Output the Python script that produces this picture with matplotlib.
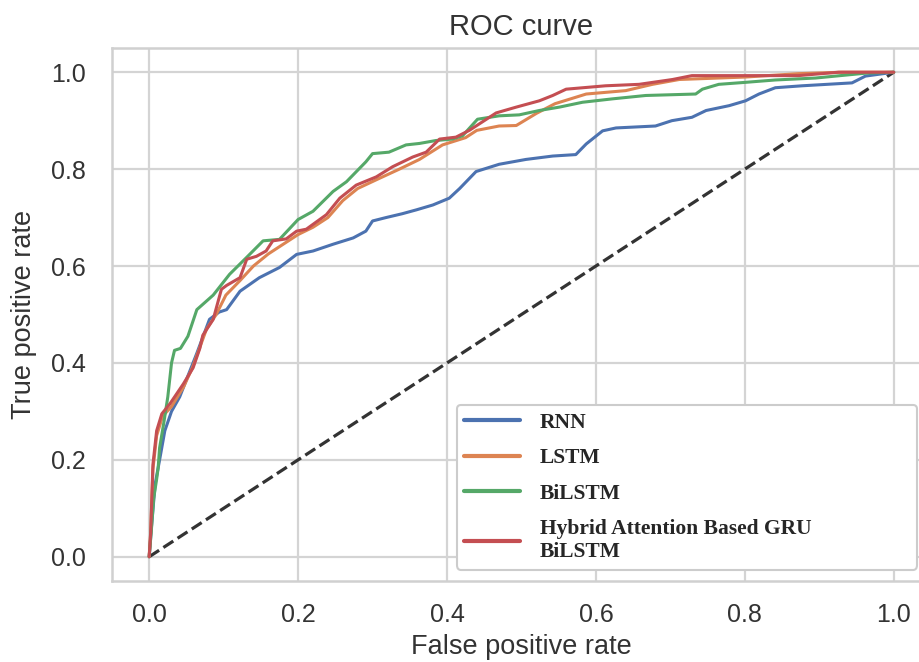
import matplotlib
matplotlib.use('Agg')
import matplotlib.pyplot as plt
import seaborn as sns

sns.set_style('whitegrid')
plt.rcParams['font.family'] = ['Liberation Sans', 'DejaVu Sans']

rnn_fpr = [0, 0.003, 0.008, 0.014, 0.021, 0.030, 0.041, 0.064, 0.081, 0.094, 0.104, 0.122, 0.148,
           0.175, 0.198, 0.220, 0.247, 0.274, 0.291, 0.300, 0.318, 0.340, 0.359, 0.381, 0.403,
           0.417, 0.439, 0.470, 0.506, 0.542, 0.573, 0.587, 0.609, 0.627, 0.680, 0.702, 0.729,
           0.748, 0.779, 0.801, 0.819, 0.841, 0.877, 0.944, 0.962, 1.0]
rnn_tpr = [0, 0.06, 0.15, 0.20, 0.26, 0.30, 0.33, 0.42, 0.49, 0.505, 0.51, 0.548, 0.576,
           0.597, 0.624, 0.631, 0.645, 0.658, 0.672, 0.693, 0.700, 0.708, 0.716, 0.726, 0.740,
           0.760, 0.795, 0.810, 0.820, 0.827, 0.830, 0.852, 0.879, 0.885, 0.889, 0.900, 0.907,
           0.921, 0.931, 0.941, 0.955, 0.968, 0.972, 0.978, 0.992, 1.0]

lstm_fpr = [0, 0.002, 0.005, 0.010, 0.018, 0.030, 0.046, 0.058, 0.077, 0.090, 0.103, 0.122, 0.140,
            0.160, 0.180, 0.200, 0.220, 0.240, 0.260, 0.280, 0.305, 0.336, 0.363, 0.394, 0.425,
            0.440, 0.470, 0.493, 0.520, 0.545, 0.587, 0.640, 0.676, 0.712, 0.800, 0.872, 0.930, 1.0]
lstm_tpr = [0, 0.05, 0.18, 0.25, 0.29, 0.31, 0.35, 0.39, 0.47, 0.50, 0.54, 0.57, 0.60,
            0.625, 0.645, 0.665, 0.68, 0.70, 0.735, 0.76, 0.778, 0.80, 0.82, 0.85, 0.865,
            0.88, 0.889, 0.89, 0.915, 0.935, 0.955, 0.962, 0.975, 0.985, 0.99, 0.997, 1.0, 1.0]

bilstm_fpr = [0, 0.003, 0.006, 0.010, 0.012, 0.014, 0.020, 0.025, 0.030, 0.034, 0.042, 0.052, 0.064,
              0.086, 0.108, 0.131, 0.153, 0.175, 0.200, 0.220, 0.247, 0.265, 0.291, 0.300, 0.322,
              0.345, 0.363, 0.385, 0.407, 0.421, 0.441, 0.470, 0.497, 0.524, 0.551, 0.582, 0.622,
              0.667, 0.734, 0.743, 0.765, 0.800, 0.841, 0.895, 0.962, 1.0]
bilstm_tpr = [0, 0.057, 0.12, 0.16, 0.183, 0.225, 0.28, 0.33, 0.40, 0.426, 0.43, 0.455, 0.51,
              0.54, 0.583, 0.618, 0.652, 0.655, 0.696, 0.713, 0.754, 0.774, 0.815, 0.832, 0.835,
              0.850, 0.853, 0.859, 0.862, 0.869, 0.903, 0.910, 0.912, 0.921, 0.928, 0.938, 0.945,
              0.952, 0.955, 0.965, 0.975, 0.979, 0.984, 0.988, 0.998, 1.0]

hybrid_fpr = [0, 0.002, 0.005, 0.010, 0.017, 0.028, 0.046, 0.059, 0.068, 0.072, 0.086, 0.097, 0.104,
              0.122, 0.131, 0.144, 0.157, 0.166, 0.184, 0.198, 0.211, 0.238, 0.256, 0.278, 0.305,
              0.327, 0.354, 0.372, 0.390, 0.412, 0.430, 0.466, 0.493, 0.524, 0.542, 0.560, 0.613,
              0.658, 0.703, 0.729, 0.872, 0.926, 1.0]
hybrid_tpr = [0, 0.05, 0.19, 0.26, 0.295, 0.316, 0.357, 0.39, 0.43, 0.457, 0.49, 0.552, 0.56,
              0.576, 0.614, 0.62, 0.631, 0.652, 0.656, 0.672, 0.676, 0.706, 0.74, 0.767, 0.784,
              0.805, 0.825, 0.835, 0.862, 0.866, 0.88, 0.916, 0.928, 0.941, 0.952, 0.965, 0.972,
              0.975, 0.985, 0.993, 0.993, 1.0, 1.0]

labels = ['RNN', 'LSTM', 'BiLSTM', 'Hybrid Attention Based GRU\nBiLSTM']
colors = sns.color_palette('deep')

fig = plt.figure(figsize=(9.2, 6.62), dpi=100)
ax = fig.add_axes([0.1217, 0.1224, 0.8902, 0.8051])

ax.plot([0, 1], [0, 1], 'k--', lw=2.3, color='#333333')
ax.plot(rnn_fpr, rnn_tpr, color=colors[0], lw=2.2, label=labels[0])
ax.plot(lstm_fpr, lstm_tpr, color=colors[1], lw=2.2, label=labels[1])
ax.plot(bilstm_fpr, bilstm_tpr, color=colors[2], lw=2.2, label=labels[2])
ax.plot(hybrid_fpr, hybrid_tpr, color=colors[3], lw=2.2, label=labels[3])

ax.set_xlim(-0.05, 1.05)
ax.set_ylim(-0.05, 1.05)
ax.set_xticks([0, 0.2, 0.4, 0.6, 0.8, 1.0])
ax.set_yticks([0, 0.2, 0.4, 0.6, 0.8, 1.0])
ax.grid(True, color='#d4d4d4', lw=1.6)
for s in ax.spines.values():
    s.set_color('#d0d0d0')
    s.set_linewidth(1.8)
ax.tick_params(axis='x', labelsize=18, pad=16, colors='#333333', length=0)
ax.tick_params(axis='y', labelsize=18, pad=19, colors='#333333', length=0)

ax.set_xlabel('False positive rate', fontsize=19.5, color='#333333', labelpad=5)
ax.set_ylabel('True positive rate', fontsize=19.5, color='#333333', labelpad=10)
ax.set_title('ROC curve', fontsize=21, color='#333333', pad=9)

leg = ax.legend(loc='lower left', bbox_to_anchor=(0.421, 0.021, 0.562, 0.3), mode='expand',
                borderaxespad=0, frameon=True, fancybox=True, handlelength=2.6,
                labelspacing=0.72, handletextpad=0.9, borderpad=0.35,
                prop={'family': 'Liberation Serif', 'weight': 'bold', 'size': 15.5})
leg.get_frame().set_edgecolor('#cccccc')
leg.get_frame().set_linewidth(1.5)
leg.get_frame().set_alpha(1)
for h in leg.get_lines():
    h.set_linewidth(3)

fig.savefig('out.png', dpi=100)
